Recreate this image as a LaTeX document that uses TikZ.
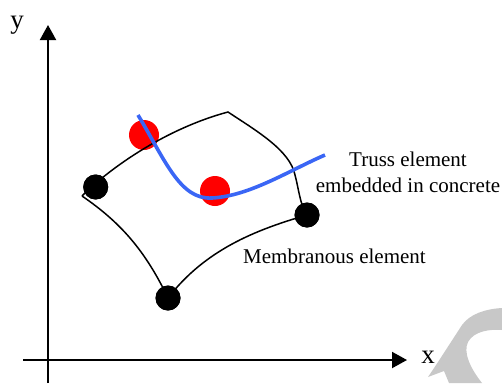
\documentclass[tikz,border=0pt]{standalone}
\usepackage{fontspec}
\setmainfont{Liberation Serif}
\usetikzlibrary{arrows.meta}
\definecolor{trussblue}{RGB}{58,102,245}
\definecolor{wmgray}{RGB}{200,200,200}
\begin{document}
\begin{tikzpicture}[x=1pt,y=-1pt,
  axis/.style={line width=2pt,-{Triangle[length=15pt,width=16pt]}},
  blackdot/.style={circle,fill=black,inner sep=0pt,minimum size=25pt},
  reddot/.style={circle,fill=red,inner sep=0pt,minimum size=30pt},
  edge/.style={line width=1.5pt},
  truss/.style={line width=3.6pt,trussblue},
  lbl/.style={font=\fontsize{21}{24}\selectfont,inner sep=0pt},
  axlbl/.style={font=\fontsize{27}{30}\selectfont,inner sep=0pt}]
\useasboundingbox (0,0) rectangle (502,383);
% watermark fragment
\fill[wmgray] (428,377) -- (438,362) -- (462,325) .. controls (470,314) and (485,309) .. (502,308)
  -- (502,330) .. controls (490,329) and (474,331) .. (468,342) .. controls (463,352) and (470,368) .. (482,383)
  -- (449,383) -- (444,371) -- cycle;
% axes
\coordinate (yb) at (48,383);
\coordinate (yt) at (48,25);
\coordinate (xl) at (23,360);
\coordinate (xr) at (407,360);
\draw[axis] (yb) -- (yt);
\draw[axis] (xl) -- (xr);
\node[axlbl,anchor=base] (ylab) at (17,28) {y};
\node[axlbl,anchor=base] (xlab) at (428,363) {x};
% red dots
\node[reddot] (r1) at (144,135) {};
\node[reddot] (r2) at (215,191) {};
% element outline
\coordinate (A) at (82,196);
\coordinate (B) at (228,112);
\node[blackdot] (n1) at (95.7,187) {};
\node[blackdot] (n2) at (307,215) {};
\node[blackdot] (n3) at (168,298) {};
\draw[edge] (A) .. controls (112,166) and (168,128) .. (B)
  .. controls (255,130) and (290,150) .. (295,175)
  .. controls (299,190) and (300,205) .. (n2.center)
  .. controls (255,230) and (205,250) .. (n3.center)
  .. controls (145,250) and (120,222) .. (A);
% truss
\coordinate (t1) at (138,115);
\coordinate (t2) at (212,198);
\coordinate (t3) at (325,155);
\draw[truss] (t1) .. controls (165,160) and (180,200) .. (t2)
  .. controls (250,196) and (290,170) .. (t3);
% black dots on top
\node[blackdot] at (n1) {};
\node[blackdot] at (n2) {};
\node[blackdot] at (n3) {};
% labels
\node[lbl,anchor=base] (t1lab) at (408,166) {Truss element};
\node[lbl,anchor=base] (t2lab) at (408,192) {embedded in concrete};
\node[lbl,anchor=base west] (mlab) at (243,263) {Membranous element};
\end{tikzpicture}
\end{document}
